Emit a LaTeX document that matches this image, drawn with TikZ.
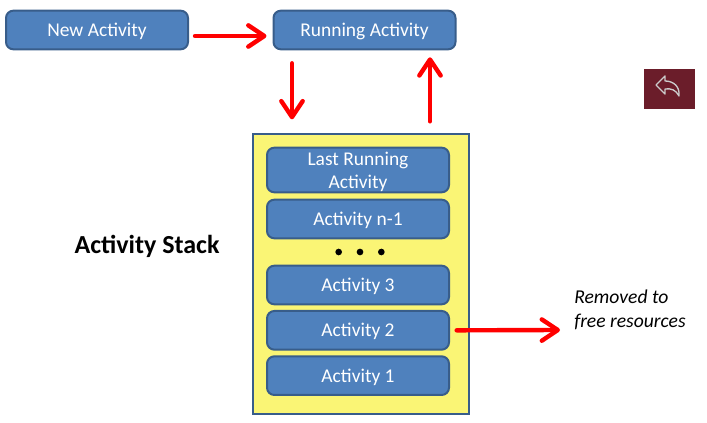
\documentclass[tikz,border=0pt]{standalone}
\usepackage{fontspec}
\setmainfont{Carlito}
\usetikzlibrary{arrows.meta}

\begin{document}
\begin{tikzpicture}[x=0.75pt,y=-0.75pt,
  main node/.style={rectangle,rounded corners=5.5pt,fill=boxblue,draw=boxedge,line width=1.5pt,
    minimum width=136.5pt,minimum height=29pt,inner sep=0pt,text=white,align=flush center,text width=130pt,
    text height=10.5pt,text depth=0.5pt,font=\fontsize{14.6}{17.25}\selectfont},
  stack node/.style={rectangle,fill=stackyellow,draw=boxedge,line width=1.5pt,
    minimum width=161.5pt,minimum height=209.5pt},
  dot node/.style={circle,fill=black,inner sep=0pt,minimum size=5pt},
  red arrow/.style={draw=red,line width=3.3pt,line cap=round,-{Straight Barb[length=12pt,width=16pt,round]}}]
  \definecolor{boxblue}{HTML}{4F81BD}
  \definecolor{boxedge}{HTML}{385D8A}
  \definecolor{stackyellow}{HTML}{FAF575}
  \definecolor{iconred}{HTML}{6B1D2A}
  \useasboundingbox (0,0) rectangle (707,423);

  \node[main node] (running) at (364.5,30) {Running Activity};
  \node[main node] (new) at (97,30) {New Activity};

  \node[stack node] (stack) at (361,274) {};
  \node[main node,minimum height=33.5pt,text depth=17.75pt] (last) at (358,170) {Last Running\\Activity};
  \node[main node] (n1) at (358,219) {Activity n-1};
  \node[main node] (a3) [below of=n1,node distance=49.5pt] {Activity 3};
  \node[main node] (a2) [below of=a3,node distance=34pt] {Activity 2};
  \node[main node] (a1) [below of=a2,node distance=34pt] {Activity 1};

  \node[dot node] (d2) at (360,252) {};
  \node[dot node] (d1) [left of=d2,node distance=16pt] {};
  \node[dot node] (d3) [right of=d2,node distance=16pt] {};

  \node[font=\fontsize{19.5}{22}\selectfont\bfseries] (title) at (147,246) {Activity Stack};
  \node[align=left,anchor=west,inner sep=0pt,font=\fontsize{14.7}{18}\itshape\selectfont] (removed) at (574,310)
    {Removed to\\free resources};

  % reply button
  \node[rectangle,fill=iconred,minimum width=38pt,minimum height=30pt,inner sep=0pt] (back) at (669.5,89) {};
  \draw[draw=black!20,line width=1pt,line join=round]
    (656,85) -- (665,76) -- (665,81) .. controls (674,81) and (680,87) .. (679,96)
    .. controls (676,90) and (671,88) .. (665,89) -- (665,94) -- cycle;

  \draw[red arrow] ([shift={(6,6)}]new.east) -- ([shift={(-6,6)}]running.west);
  \draw[red arrow] ([shift={(-72.5,13)}]running.south) -- ([shift={(-69,-14)}]stack.north);
  \draw[red arrow] ([shift={(69,-12)}]stack.north) -- ([shift={(65.5,7)}]running.south);
  \draw[red arrow] ([xshift=5pt]a2.east) -- ([shift={(-14,20)}]removed.west);
\end{tikzpicture}
\end{document}
